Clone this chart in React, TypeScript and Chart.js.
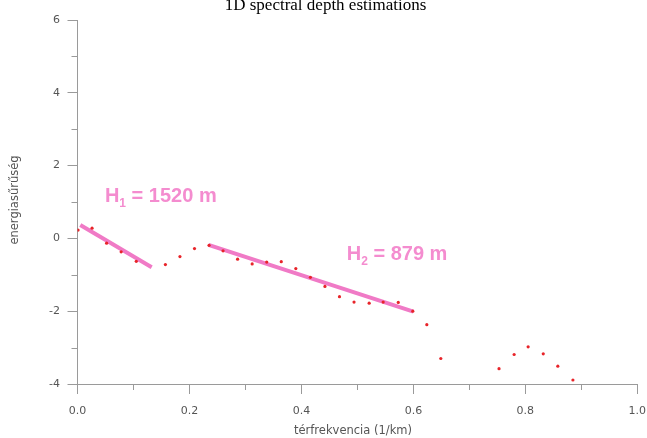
import React, { useEffect, useRef } from "react";
import { Chart, registerables } from "chart.js";

Chart.register(...registerables);

// ---- data ----
const frequency = [0.001, 0.026, 0.052, 0.078, 0.105, 0.157, 0.183, 0.209, 0.235, 0.26, 0.286, 0.312, 0.338, 0.364, 0.39, 0.416, 0.442, 0.468, 0.494, 0.521, 0.546, 0.573, 0.599, 0.624, 0.649, 0.753, 0.78, 0.805, 0.832, 0.858, 0.885];
const energy = [0.23, 0.28, -0.13, -0.37, -0.63, -0.72, -0.5, -0.28, -0.19, -0.34, -0.57, -0.7, -0.65, -0.64, -0.83, -1.07, -1.32, -1.6, -1.75, -1.78, -1.75, -1.76, -2.0, -2.37, -3.3, -3.58, -3.19, -2.98, -3.17, -3.51, -3.89];

const fit1X = [0.005, 0.1325];
const fit1Y = [0.37, -0.79];
const fit2X = [0.234, 0.6];
const fit2Y = [-0.18, -2.01];

const labelSubs = ["1", "2"];
const labelRest = [" = 1520 m", " = 879 m"];
const labelX = [0.049, 0.481];
const labelY = [1.01, -0.58];

const xTickValues = [0, 0.2, 0.4, 0.6, 0.8, 1.0];
const xTickLabels = ["0.0", "0.2", "0.4", "0.6", "0.8", "1.0"];
const yTickValues = [-4, -2, 0, 2, 4, 6];
const yTickLabels = ["-4", "-2", "0", "2", "4", "6"];

const titleText = "1D spectral depth estimations";
const xTitle = "térfrekvencia (1/km)";
const yTitle = "energiasűrűség";

// ---- styles ----
const AXIS = "#9a9a9a";
const PINK_LINE = "#f07ac6";
const PINK_TEXT = "#f48ccf";
const RED = "#e8242a";
const TICK_FONT = "DejaVu Sans";

const r3 = (v: number) => Math.round(v * 1000) / 1000;

const decorPlugin = {
  id: "decor",
  afterDraw(chart: any) {
    const ctx = chart.ctx;
    const xs = chart.scales.x;
    const ys = chart.scales.y;
    const area = chart.chartArea;
    ctx.save();
    // minor ticks
    ctx.strokeStyle = AXIS;
    ctx.lineWidth = 1;
    xs.ticks.forEach((t: any) => {
      if (xTickValues.indexOf(r3(t.value)) < 0) {
        const px = Math.round(xs.getPixelForValue(t.value)) + 0.5;
        ctx.beginPath();
        ctx.moveTo(px, area.bottom);
        ctx.lineTo(px, area.bottom + 6);
        ctx.stroke();
      }
    });
    ys.ticks.forEach((t: any) => {
      if (yTickValues.indexOf(r3(t.value)) < 0) {
        const py = Math.round(ys.getPixelForValue(t.value)) + 0.5;
        ctx.beginPath();
        ctx.moveTo(area.left, py);
        ctx.lineTo(area.left - 6, py);
        ctx.stroke();
      }
    });

    // title
    ctx.fillStyle = "#000";
    ctx.font = "17px 'Liberation Serif'";
    ctx.textAlign = "center";
    ctx.textBaseline = "alphabetic";
    ctx.fillText(titleText, chart.width / 2 + 2, 10);

    // axis titles
    ctx.fillStyle = "#555";
    ctx.font = `11.5px '${TICK_FONT}'`;
    ctx.textBaseline = "middle";
    ctx.fillText(xTitle, 353, 431);
    ctx.save();
    ctx.translate(15, 200);
    ctx.rotate(-Math.PI / 2);
    ctx.fillText(yTitle, 0, 0);
    ctx.restore();

    // depth labels
    ctx.fillStyle = PINK_TEXT;
    ctx.textAlign = "left";
    ctx.textBaseline = "alphabetic";
    for (let i = 0; i < labelSubs.length; i++) {
      let px = xs.getPixelForValue(labelX[i]);
      const py = ys.getPixelForValue(labelY[i]);
      ctx.font = "bold 20px 'Liberation Sans'";
      ctx.fillText("H", px, py);
      px += ctx.measureText("H").width;
      ctx.font = "bold 12px 'Liberation Sans'";
      ctx.fillText(labelSubs[i], px, py + 5);
      px += ctx.measureText(labelSubs[i]).width;
      ctx.font = "bold 20px 'Liberation Sans'";
      ctx.fillText(labelRest[i], px, py);
    }
    ctx.restore();
  },
};

export default function App() {
  const ref = useRef<HTMLCanvasElement | null>(null);
  useEffect(() => {
    if (!ref.current) return;
    const points = frequency.map((f, i) => ({ x: f, y: energy[i] }));
    const fit1 = fit1X.map((f, i) => ({ x: f, y: fit1Y[i] }));
    const fit2 = fit2X.map((f, i) => ({ x: f, y: fit2Y[i] }));
    const chart = new Chart(ref.current, {
      type: "scatter",
      data: {
        datasets: [
          {
            data: points,
            pointRadius: 1.6,
            pointBackgroundColor: RED,
            pointBorderWidth: 0,
            showLine: false,
            order: 0,
          },
          {
            data: fit1,
            showLine: true,
            borderColor: PINK_LINE,
            borderWidth: 4,
            pointRadius: 0,
            order: 1,
          },
          {
            data: fit2,
            showLine: true,
            borderColor: PINK_LINE,
            borderWidth: 4,
            pointRadius: 0,
            order: 1,
          },
        ],
      },
      options: {
        responsive: false,
        animation: false,
        layout: { padding: { left: 0, right: 0, top: 20, bottom: 0 } },
        plugins: { legend: { display: false }, tooltip: { enabled: false }, title: { display: false } },
        scales: {
          x: {
            type: "linear",
            min: 0,
            max: 1,
            afterFit: (s: any) => {
              s.height = 54;
              s.paddingRight = 9.7;
            },
            border: { display: true, color: AXIS, width: 1 },
            grid: {
              display: true,
              drawOnChartArea: false,
              drawTicks: true,
              tickLength: 10,
              tickColor: (c: any) => (xTickValues.indexOf(r3(c.tick.value)) >= 0 ? AXIS : "rgba(0,0,0,0)"),
            },
            ticks: {
              stepSize: 0.1,
              autoSkip: false,
              maxRotation: 0,
              padding: 11,
              color: "#555",
              font: { family: TICK_FONT, size: 11 },
              callback: (v: any) => {
                const i = xTickValues.indexOf(r3(Number(v)));
                return i >= 0 ? xTickLabels[i] : "";
              },
            },
          },
          y: {
            type: "linear",
            min: -4,
            max: 6,
            afterFit: (s: any) => {
              s.width = 77.5;
            },
            border: { display: true, color: AXIS, width: 1 },
            grid: {
              display: true,
              drawOnChartArea: false,
              drawTicks: true,
              tickLength: 10,
              tickColor: (c: any) => (yTickValues.indexOf(r3(c.tick.value)) >= 0 ? AXIS : "rgba(0,0,0,0)"),
            },
            ticks: {
              stepSize: 1,
              autoSkip: false,
              padding: 7.5,
              color: "#555",
              font: { family: TICK_FONT, size: 11 },
              callback: (v: any) => {
                const i = yTickValues.indexOf(r3(Number(v)));
                return i >= 0 ? yTickLabels[i] : "";
              },
            },
          },
        },
      },
      plugins: [decorPlugin],
    });
    return () => chart.destroy();
  }, []);
  return (
    <div style={{ position: "fixed", left: 0, top: 0, width: 647, height: 438, background: "#fff" }}>
      <canvas ref={ref} width={647} height={438} style={{ width: 647, height: 438, display: "block" }} />
    </div>
  );
}
